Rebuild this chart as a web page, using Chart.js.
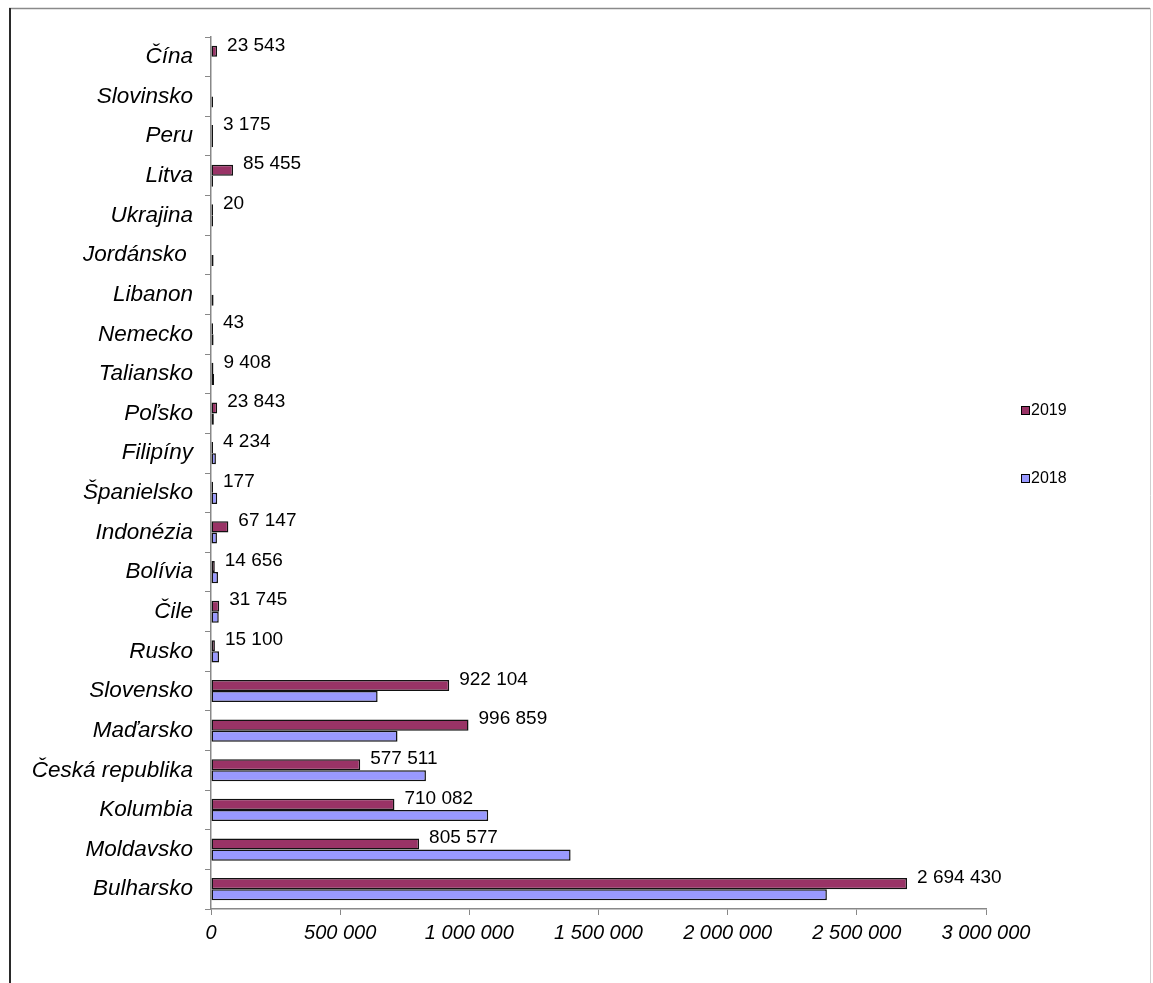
<!DOCTYPE html>
<html>
<head>
<meta charset="utf-8">
<script src="https://cdn.jsdelivr.net/npm/chart.js@4/dist/chart.umd.min.js"></script>
<style>
  html, body { margin: 0; padding: 0; background: #fff; }
  #wrap { width: 1153px; height: 983px; position: relative; }
</style>
</head>
<body>
<div id="wrap"><canvas id="c"></canvas></div>
<script>
// Countries, listed top to bottom
const countries = [
  'Čína', 'Slovinsko', 'Peru', 'Litva', 'Ukrajina', 'Jordánsko ', 'Libanon',
  'Nemecko', 'Taliansko', 'Poľsko', 'Filipíny', 'Španielsko', 'Indonézia',
  'Bolívia', 'Čile', 'Rusko', 'Slovensko', 'Maďarsko', 'Česká republika',
  'Kolumbia', 'Moldavsko', 'Bulharsko'
];

const values2019 = [
  23543, null, 3175, 85455, 20, null, null,
  43, 9408, 23843, 4234, 177, 67147,
  14656, 31745, 15100, 922104, 996859, 577511,
  710082, 805577, 2694430
];

const values2018 = [
  null, 1000, 1500, 1000, 500, 10000, 10000,
  10000, 12000, 11000, 19000, 24000, 23000,
  27000, 30000, 31000, 645000, 722000, 832000,
  1073000, 1392000, 2384000
];

const xTicks = [0, 500000, 1000000, 1500000, 2000000, 2500000, 3000000];

const seriesNames = ['2019', '2018'];
const seriesColors = ['#993366', '#9999ff'];

const fontFamily = '"Liberation Sans", Arial, sans-serif';

function spaced(n) {
  return String(Math.round(n)).replace(/\B(?=(\d{3})+(?!\d))/g, ' ');
}

// White page with the thin outer frame
const framePlugin = {
  id: 'frame',
  beforeDraw(chart) {
    const ctx = chart.ctx;
    ctx.save();
    ctx.fillStyle = '#ffffff';
    ctx.fillRect(0, 0, chart.width, chart.height);
    ctx.lineWidth = 1.5;
    ctx.strokeStyle = '#8a8a8a';
    ctx.beginPath();
    ctx.moveTo(9, 8.5);
    ctx.lineTo(1150, 8.5);
    ctx.stroke();
    ctx.lineWidth = 2;
    ctx.strokeStyle = '#2a2a2a';
    ctx.beginPath();
    ctx.moveTo(10, 8);
    ctx.lineTo(10, chart.height);
    ctx.stroke();
    ctx.lineWidth = 1;
    ctx.strokeStyle = '#cfcfcf';
    ctx.beginPath();
    ctx.moveTo(1150.5, 8);
    ctx.lineTo(1150.5, chart.height);
    ctx.stroke();
    ctx.restore();
  }
};

// Value labels after the 2019 bars
const valueLabels = {
  id: 'valueLabels',
  afterDatasetsDraw(chart) {
    const ctx = chart.ctx;
    const meta = chart.getDatasetMeta(0);
    ctx.save();
    ctx.font = '19px ' + fontFamily;
    ctx.fillStyle = '#000';
    ctx.textAlign = 'left';
    ctx.textBaseline = 'middle';
    meta.data.forEach((bar, i) => {
      const v = values2019[i];
      if (v === null || v === undefined) return;
      ctx.fillText(spaced(v), bar.x + 10, bar.y - 6);
    });
    ctx.restore();
  }
};

// Legend placed to the right of the plot
const sideLegend = {
  id: 'sideLegend',
  afterDraw(chart) {
    const ctx = chart.ctx;
    const x = chart.chartArea.right + 35;
    const rows = [chart.chartArea.top + 374, chart.chartArea.top + 442];
    ctx.save();
    ctx.font = '16px ' + fontFamily;
    ctx.textBaseline = 'middle';
    ctx.textAlign = 'left';
    chart.data.datasets.forEach((ds, i) => {
      const y = rows[i];
      ctx.fillStyle = ds.backgroundColor;
      ctx.fillRect(x + 0.5, y - 4.5, 8, 8);
      ctx.strokeStyle = '#000';
      ctx.lineWidth = 1;
      ctx.strokeRect(x + 0.5, y - 4.5, 8, 8);
      ctx.fillStyle = '#000';
      ctx.fillText(ds.label, x + 10, y);
    });
    ctx.restore();
  }
};

new Chart(document.getElementById('c'), {
  type: 'bar',
  data: {
    labels: countries,
    datasets: [
      {
        label: seriesNames[0],
        data: values2019,
        backgroundColor: seriesColors[0],
        borderColor: '#111',
        borderWidth: 1.5,
        borderSkipped: false,
        minBarLength: 2,
        categoryPercentage: 0.56,
        barPercentage: 1.0
      },
      {
        label: seriesNames[1],
        data: values2018,
        backgroundColor: seriesColors[1],
        borderColor: '#111',
        borderWidth: 1.5,
        borderSkipped: false,
        minBarLength: 2,
        categoryPercentage: 0.56,
        barPercentage: 1.0
      }
    ]
  },
  options: {
    indexAxis: 'y',
    responsive: true,
    maintainAspectRatio: false,
    animation: false,
    layout: { padding: { left: 0, top: 37, right: 167, bottom: 0 } },
    plugins: {
      legend: { display: false },
      tooltip: { enabled: false }
    },
    scales: {
      x: {
        min: 0,
        max: 3000000,
        afterBuildTicks(scale) {
          scale.ticks = xTicks.map(v => ({ value: v }));
        },
        afterFit(scale) { scale.height = 74; },
        grid: {
          drawOnChartArea: false,
          drawTicks: true,
          tickLength: 6,
          color: '#888'
        },
        border: { display: true, color: '#888', width: 1.5 },
        ticks: {
          padding: 6,
          color: '#000',
          font: { family: fontFamily, size: 20, style: 'italic' },
          callback: v => spaced(v)
        }
      },
      y: {
        afterFit(scale) { scale.width = 211; },
        grid: {
          offset: true,
          drawOnChartArea: false,
          drawTicks: true,
          tickLength: 6,
          color: '#888'
        },
        border: { display: true, color: '#888', width: 1.5 },
        ticks: {
          padding: 12,
          color: '#000',
          font: { family: fontFamily, size: 22.5, style: 'italic' }
        }
      }
    }
  },
  plugins: [framePlugin, valueLabels, sideLegend]
});
</script>
</body>
</html>
